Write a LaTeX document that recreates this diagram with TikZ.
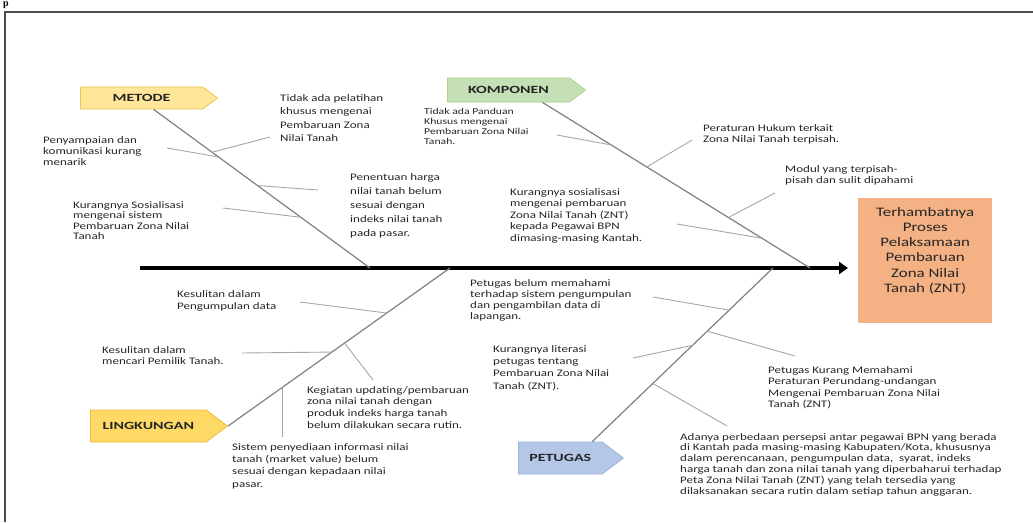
\documentclass[tikz,border=0pt]{standalone}
\usepackage{fontspec}
\setmainfont[FakeStretch=1.3]{Carlito}
\newfontfamily\catfont[FakeStretch=1.45]{Carlito}
\newfontfamily\headfont{Liberation Serif}
\usepackage{tikz}
\usetikzlibrary{arrows.meta,calc,shapes.symbols}
\definecolor{txt}{HTML}{262626}
\definecolor{metfill}{HTML}{FFE699}
\definecolor{metline}{HTML}{E9C659}
\definecolor{komfill}{HTML}{C5E0B4}
\definecolor{komline}{HTML}{A9D18E}
\definecolor{linfill}{HTML}{FFD966}
\definecolor{linline}{HTML}{EDBE3C}
\definecolor{petfill}{HTML}{B4C7E7}
\definecolor{petline}{HTML}{9DB4DC}
\definecolor{efffill}{HTML}{F4B183}
\newcommand\notesize[1]{\fontsize{10}{#1}\selectfont}
\tikzstyle{category}=[signal, signal to=east, signal pointer angle=74, anchor=west, inner sep=0pt, line width=0.8pt, text=txt, font=\catfont\fontsize{11}{11}\selectfont\bfseries]
\tikzstyle{note}=[anchor=north west, inner sep=0pt, align=left, text=txt, font=\notesize{11}]
\tikzstyle{bone}=[draw=black!50, line width=1.2pt]
\tikzstyle{twig}=[draw=black!35, line width=0.9pt]
\tikzstyle{spine}=[draw=black, line width=4.5pt, -{Triangle[length=9pt,width=12pt]}]

\begin{document}
\begin{tikzpicture}[x=1pt, y=-1pt]
\useasboundingbox (0,0) rectangle (1033,522);
% frame
\draw[black!70, line width=1.6pt] (5,522) -- (5,12) -- (1040,12);
\node[anchor=base west, inner sep=0pt, font=\headfont\fontsize{10}{10}\selectfont\bfseries] (pg) at (3,6.5) {p};

% spine and effect
\coordinate (tail) at (140,268);
\coordinate (tip) at (848,268);
\draw[spine] (tail) -- (tip);
\node[fill=efffill, minimum width=134, minimum height=125, anchor=north west, inner sep=0pt] (eff) at (858,198) {};
\node[align=center, text=txt, font=\fontsize{13}{15.2}\selectfont] (efftext) at ([yshift=10pt]eff.center) {Terhambatnya\\Proses\\Pelaksamaan\\Pembaruan\\Zona Nilai\\Tanah (ZNT)};

% categories
\node[category, fill=metfill, draw=metline, minimum width=137, minimum height=22] (met) at (80,98) {METODE};
\node[category, fill=komfill, draw=komline, minimum width=138, minimum height=24] (kom) at (447,90) {KOMPONEN};
\node[category, fill=linfill, draw=linline, minimum width=137, minimum height=32] (lin) at (90,426) {LINGKUNGAN};
\node[category, fill=petfill, draw=petline, minimum width=105, minimum height=32] (pet) at (518,458) {PETUGAS};

% bones
\coordinate (metS) at ([xshift=12pt]met.south);
\coordinate (metE) at (370,268);
\coordinate (komS) at ([xshift=34pt]kom.south);
\coordinate (komE) at (810,268);
\coordinate (linS) at (lin.east);
\coordinate (linE) at (450,268);
\coordinate (petS) at ([xshift=32pt]pet.north);
\coordinate (petE) at (773,268);
\draw[bone] (metS) -- (metE);
\draw[bone] (komS) -- (komE);
\draw[bone] (linS) -- (linE);
\draw[bone] (petS) -- (petE);

% causes
\node[note, font=\notesize{13.5}] (tA) at (280,94) {Tidak ada pelatihan\\khusus mengenai\\Pembaruan Zona\\Nilai Tanah};
\node[note] (tB) at (43,136) {Penyampaian dan\\komunikasi kurang\\menarik};
\node[note, font=\notesize{14}] (tC) at (350,173) {Penentuan harga\\nilai tanah belum\\sesuai dengan\\indeks nilai tanah\\pada pasar.};
\node[note, font=\notesize{10.5}] (tD) at (73,201) {Kurangnya Sosialisasi\\mengenai sistem\\Pembaruan Zona Nilai\\Tanah};
\node[note, font=\fontsize{9}{10}\selectfont] (tE) at (424,108) {Tidak ada Panduan\\Khusus mengenai\\Pembaruan Zona Nilai\\Tanah.};
\node[note] (tF) at (703,124) {Peraturan Hukum terkait\\Zona Nilai Tanah terpisah.};
\node[note] (tG) at (785,165) {Modul yang terpisah-\\pisah dan sulit dipahami};
\node[note, font=\notesize{11.5}] (tH) at (510,188) {Kurangnya sosialisasi\\mengenai pembaruan\\Zona Nilai Tanah (ZNT)\\kepada Pegawai BPN\\dimasing-masing Kantah.};
\node[note, font=\notesize{12.5}] (tI) at (177,290) {Kesulitan dalam\\Pengumpulan data};
\node[note] (tJ) at (102,346) {Kesulitan dalam\\mencari Pemilik Tanah.};
\node[note, font=\notesize{11.7}] (tK) at (307,386) {Kegiatan updating/pembaruan\\zona nilai tanah dengan\\produk indeks harga tanah\\belum dilakukan secara rutin.};
\node[note, font=\notesize{12.3}] (tL) at (232,443) {Sistem penyediaan informasi nilai\\tanah (market value) belum\\sesuai dengan kepadaan nilai\\pasar.};
\node[note] (tM) at (470,279) {Petugas belum memahami\\terhadap sistem pengumpulan\\dan pengambilan data di\\lapangan.};
\node[note, font=\notesize{11.5}] (tN) at (768,366) {Petugas Kurang Memahami\\Peraturan Perundang-undangan\\Mengenai Pembaruan Zona Nilai\\Tanah (ZNT)};
\node[note, font=\notesize{12.4}] (tO) at (493,345) {Kurangnya literasi\\petugas tentang\\Pembaruan Zona Nilai\\Tanah (ZNT).};
\node[note, font=\notesize{10.8}] (tP) at (680,433) {Adanya perbedaan persepsi antar pegawai BPN yang berada\\di Kantah pada masing-masing Kabupaten/Kota, khususnya\\dalam perencanaan, pengumpulan data,\ \ syarat, indeks\\harga tanah dan zona nilai tanah yang diperbaharui terhadap\\Peta Zona Nilai Tanah (ZNT) yang telah tersedia yang\\dilaksanakan secara rutin dalam setiap tahun anggaran.};

% twigs
\coordinate (fA) at (270,137);
\coordinate (fB) at (167,148);
\coordinate (fC) at (318,190);
\coordinate (fD) at (223,208);
\coordinate (fE) at (557,135);
\coordinate (fF) at (692,140);
\coordinate (fG) at (775,193);
\coordinate (fH) at (677,224);
\coordinate (fI) at (300,302);
\coordinate (fJ) at (242,353);
\coordinate (fK) at (373,380);
\coordinate (fM) at (653,297);
\coordinate (fN) at (795,356);
\coordinate (fO) at (633,358);
\coordinate (fP) at (727,426);
\draw[twig] (fA) -- ($(metS)!0.27!(metE)$);
\draw[twig] (fB) -- ($(metS)!0.30!(metE)$);
\draw[twig] ($(metS)!0.48!(metE)$) -- (fC);
\draw[twig] (fD) -- ($(metS)!0.68!(metE)$);
\draw[twig] (fE) -- ($(komS)!0.257!(komE)$);
\draw[twig] ($(komS)!0.39!(komE)$) -- (fF);
\draw[twig] ($(komS)!0.695!(komE)$) -- (fG);
\draw[twig] (fH) -- ($(komS)!0.82!(komE)$);
\draw[twig] (fI) -- ($(linS)!0.715!(linE)$);
\draw[twig] (fJ) -- ($(linS)!0.468!(linE)$);
\draw[twig] ($(linS)!0.525!(linE)$) -- (fK);
\draw[twig] ($(linS)!0.247!(linE)$) -- ++(0,50);
\draw[twig] (fM) -- ($(petS)!0.757!(petE)$);
\draw[twig] ($(petS)!0.636!(petE)$) -- (fN);
\draw[twig] (fO) -- ($(petS)!0.555!(petE)$);
\draw[twig] ($(petS)!0.335!(petE)$) -- (fP);
\end{tikzpicture}
\end{document}
